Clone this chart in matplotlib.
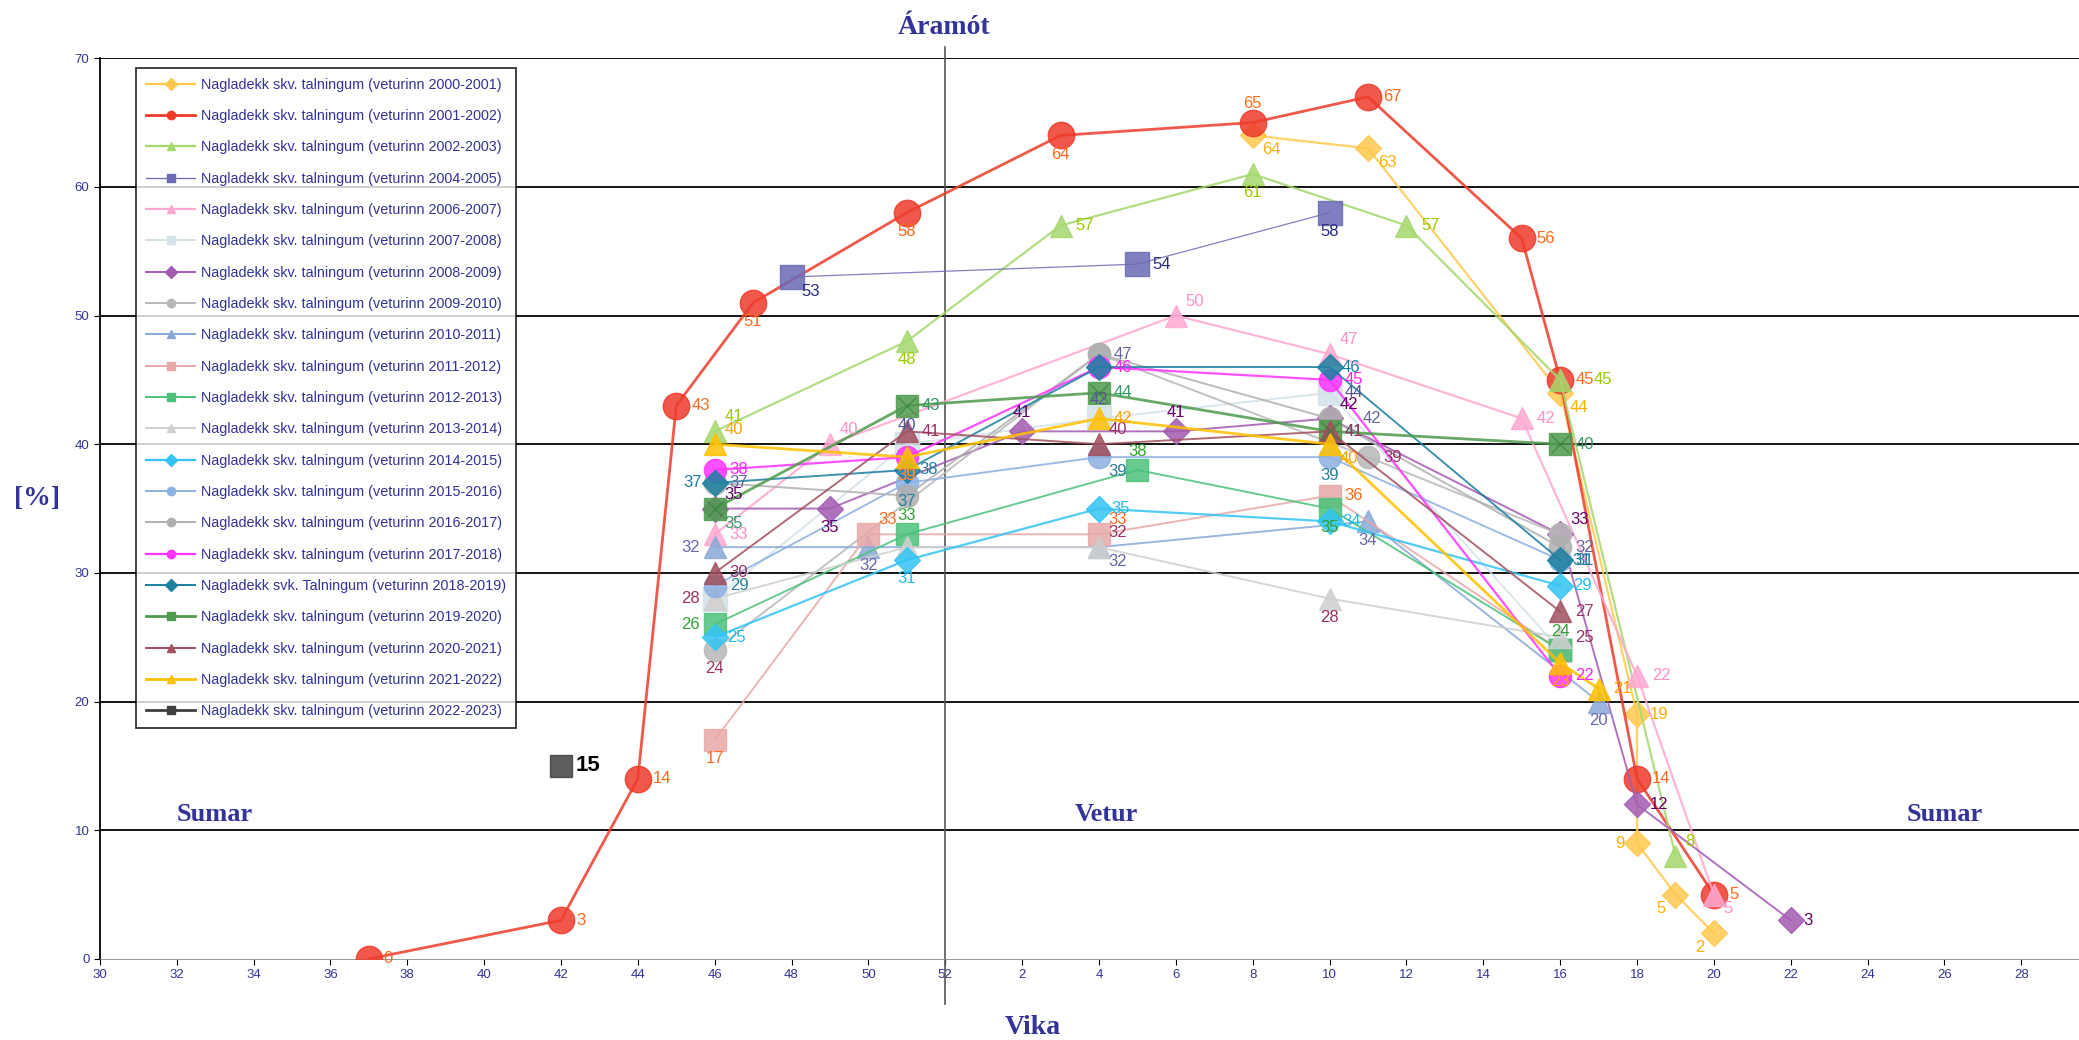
import matplotlib.pyplot as plt
from matplotlib.lines import Line2D

plt.rcParams['font.family'] = ['Liberation Sans', 'DejaVu Sans']

# x ticks: weeks from 30 through 52, then 2 to 28 of the next year
tick_weeks = [30, 32, 34, 36, 38, 40, 42, 44, 46, 48, 50, 52,
              2, 4, 6, 8, 10, 12, 14, 16, 18, 20, 22, 24, 26, 28]
y_ticks = [0, 10, 20, 30, 40, 50, 60, 70]

seasons = ['2000-2001', '2001-2002', '2002-2003', '2004-2005', '2006-2007',
           '2007-2008', '2008-2009', '2009-2010', '2010-2011', '2011-2012',
           '2012-2013', '2013-2014', '2014-2015', '2015-2016', '2016-2017',
           '2017-2018', '2018-2019', '2019-2020', '2020-2021', '2021-2022',
           '2022-2023']

wk_0001 = [8, 11, 16, 18, 18, 19, 20]
pc_0001 = [64, 63, 44, 19, 9, 5, 2]
wk_0102 = [37, 42, 44, 45, 47, 51, 3, 8, 11, 15, 16, 18, 20]
pc_0102 = [0, 3, 14, 43, 51, 58, 64, 65, 67, 56, 45, 14, 5]
wk_0203 = [46, 51, 3, 8, 12, 16, 19]
pc_0203 = [41, 48, 57, 61, 57, 45, 8]
wk_0405 = [48, 5, 10]
pc_0405 = [53, 54, 58]
wk_0607 = [46, 49, 6, 10, 15, 18, 20]
pc_0607 = [33, 40, 50, 47, 42, 22, 5]
wk_0708 = [46, 51, 4, 10, 16]
pc_0708 = [28, 40, 42, 44, 24]
wk_0809 = [46, 49, 2, 6, 10, 16, 18, 22]
pc_0809 = [35, 35, 41, 41, 42, 33, 12, 3]
wk_0910 = [46, 4, 11, 16]
pc_0910 = [24, 47, 39, 33]
wk_1011 = [46, 50, 4, 11, 17]
pc_1011 = [32, 32, 32, 34, 20]
wk_1112 = [46, 50, 4, 10, 16]
pc_1112 = [17, 33, 33, 36, 24]
wk_1213 = [46, 51, 5, 10, 16]
pc_1213 = [26, 33, 38, 35, 24]
wk_1314 = [46, 51, 4, 10, 16]
pc_1314 = [28, 32, 32, 28, 25]
wk_1415 = [46, 51, 4, 10, 16]
pc_1415 = [25, 31, 35, 34, 29]
wk_1516 = [46, 51, 4, 10, 16]
pc_1516 = [29, 37, 39, 39, 31]
wk_1617 = [46, 51, 4, 10, 16]
pc_1617 = [37, 36, 47, 42, 32]
wk_1718 = [46, 51, 4, 10, 16]
pc_1718 = [38, 39, 46, 45, 22]
wk_1819 = [46, 51, 4, 10, 16]
pc_1819 = [37, 38, 46, 46, 31]
wk_1920 = [46, 51, 4, 10, 16]
pc_1920 = [35, 43, 44, 41, 40]
wk_2021 = [46, 51, 4, 10, 16]
pc_2021 = [30, 41, 40, 41, 27]
wk_2122 = [46, 51, 4, 10, 16, 17]
pc_2122 = [40, 39, 42, 40, 23, 21]
wk_2223 = [42]
pc_2223 = [15]

data = [(wk_0001, pc_0001), (wk_0102, pc_0102), (wk_0203, pc_0203),
        (wk_0405, pc_0405), (wk_0607, pc_0607), (wk_0708, pc_0708),
        (wk_0809, pc_0809), (wk_0910, pc_0910), (wk_1011, pc_1011),
        (wk_1112, pc_1112), (wk_1213, pc_1213), (wk_1314, pc_1314),
        (wk_1415, pc_1415), (wk_1516, pc_1516), (wk_1617, pc_1617),
        (wk_1718, pc_1718), (wk_1819, pc_1819), (wk_1920, pc_1920),
        (wk_2021, pc_2021), (wk_2122, pc_2122), (wk_2223, pc_2223)]

# style: line colour, marker, marker size, line width, label colour
styles = [
    ('#FFC94D', 'D', 13, 1.6, '#FFB000'),
    ('#EE3B2B', 'o', 19, 2.0, '#FF6A1A'),
    ('#A6D86E', '^', 16, 1.6, '#99CC00'),
    ('#6A6AB5', 's', 17, 0.9, '#2B2B80'),
    ('#FFA8D0', '^', 16, 1.6, '#FF8FC8'),
    ('#D3E2E8', 's', 17, 1.4, '#555599'),
    ('#A25BB0', 'D', 13, 1.4, '#660066'),
    ('#B8B8B8', 'o', 16, 1.4, '#993366'),
    ('#8AA8D6', '^', 16, 1.4, '#6666AA'),
    ('#E8A8A8', 's', 16, 1.4, '#FF6A1A'),
    ('#4CC17A', 's', 16, 1.4, '#33A033'),
    ('#CFCFCF', '^', 16, 1.4, '#993366'),
    ('#33C4F4', 'D', 13, 1.6, '#22BBEE'),
    ('#8DB0E2', 'o', 16, 1.4, '#2A7F99'),
    ('#AFAFAF', 'o', 16, 1.4, '#666699'),
    ('#FF33FF', 'o', 16, 1.6, '#FF22FF'),
    ('#1C7FA0', 'D', 13, 1.4, '#1C7FA0'),
    ('#4E9A4E', 's', 16, 2.0, '#339966'),
    ('#A0505E', '^', 16, 1.4, '#993366'),
    ('#FFC000', '^', 16, 2.0, '#FFA000'),
    ('#404040', 's', 16, 2.0, '#000000'),
]

# label placement per point
lab_pos = [
    ['rb', 'rb', 'rb', 'r', 'l', 'lb', 'lb'],
    ['r', 'r', 'r', 'r', 'b', 'b', 'b', 'a', 'r', 'r', 'r', 'r', 'r'],
    ['ra', 'b', 'r', 'b', 'r', 'rr', 'ra'],
    ['rb', 'r', 'b'],
    ['r', 'ra', 'ra', 'ra', 'r', 'r', 'rb'],
    ['', 'a', 'a', 'r', ''],
    ['ra', 'b', 'a', 'a', 'ra', 'ra', 'r', 'r'],
    ['b', '', 'r', ''],
    ['l', 'b', 'rb', 'b', 'b'],
    ['b', 'ra', 'ra', 'r', ''],
    ['l', 'a', 'a', 'b', 'a'],
    ['l', '', 'ra', 'b', 'r'],
    ['r', 'b', 'r', 'r', 'r'],
    ['r', 'b', 'rb', 'b', 'r'],
    ['r', '', 'r', 'rr', 'r'],
    ['r', 'b', 'r', 'r', 'r'],
    ['l', 'r', '', 'r', 'r'],
    ['rb', 'r', 'r', 'r', 'r'],
    ['r', 'r', 'ra', 'r', 'r'],
    ['ra', 'b', 'r', 'rb', 'b', 'r'],
    ['r'],
]

offsets = {'r': (9, 0, 'left', 'center'), 'l': (-9, 0, 'right', 'center'),
           'rr': (24, 0, 'left', 'center'),
           'a': (0, 8, 'center', 'bottom'), 'b': (0, -8, 'center', 'top'),
           'ra': (7, 5, 'left', 'bottom'), 'rb': (7, -5, 'left', 'top'),
           'la': (-7, 5, 'right', 'bottom'), 'lb': (-7, -5, 'right', 'top')}


def wk(w):
    return w - 30 if w >= 30 else w + 22


navy = '#333399'
serif = 'Liberation Serif'

fig = plt.figure(figsize=(20.79, 10.40), dpi=100)
ax = fig.add_axes([0.048, 0.078, 0.952, 0.866])

for (weeks, vals), st, pos in zip(data, styles, lab_pos):
    col, mk, ms, lw, lcol = st
    xs = [wk(w) for w in weeks]
    ax.plot(xs, vals, color=col, lw=lw, marker=mk, ms=ms,
            markerfacecolor=col, markeredgecolor=col, alpha=0.85, zorder=3)
    for x, v, p in zip(xs, vals, pos):
        if not p:
            continue
        dx, dy, ha, va = offsets[p]
        if mk in 'os^' and p in ('r', 'l'):
            dx = dx * 1.2
        bold = col == '#404040'
        ax.annotate(str(v), (x, v), xytext=(dx, dy), textcoords='offset points',
                    ha=ha, va=va, color=lcol, zorder=5,
                    fontsize=16 if bold else 12,
                    fontweight='bold' if bold else 'normal')

# crossed squares of 2019-2020
ax.plot([wk(w) for w in wk_1920], pc_1920, ls='none', marker='x', ms=13,
        mew=1, color='#2E7A2E', alpha=0.6, zorder=4)

ax.set_xlim(0, 51.5)
ax.set_ylim(0, 70)
ax.set_xticks(range(0, 51, 2))
ax.set_xticklabels(tick_weeks)
ax.set_yticks(y_ticks)
ax.tick_params(axis='both', labelsize=9.5, labelcolor=navy, length=4,
               direction='out', color='black')
for yv in y_ticks[1:]:
    ax.axhline(yv, color='black', lw=1.3, zorder=1)
for s in ['top', 'right']:
    ax.spines[s].set_visible(False)
ax.spines['left'].set_linewidth(1.3)
ax.spines['bottom'].set_linewidth(0.6)
ax.spines['bottom'].set_color('#888888')

ax.axvline(wk(52), ymin=-0.05, ymax=1.013, color='#555555', lw=1.2,
           clip_on=False, zorder=2)

fig.text(0.454, 0.974, 'Áramót', ha='center', va='center', fontsize=20,
         fontweight='bold', family=serif, color=navy)
fig.text(0.497, 0.012, 'Vika', ha='center', va='center',
         fontsize=20, fontweight='bold', family=serif, color=navy)
fig.text(0.018, 0.521, '[%]', ha='center', va='center', fontsize=20,
         fontweight='bold', family=serif, color=navy)
for xw, txt in [(33, 'Sumar'), (4.2, 'Vetur'), (26, 'Sumar')]:
    ax.text(wk(xw), 11.2, txt, ha='center', va='center', fontsize=19,
            fontweight='bold', family=serif, color=navy)

handles = []
for season, st in zip(seasons, styles):
    col, mk, ms, lw, lcol = st
    word = 'svk. Talningum' if season == '2018-2019' else 'skv. talningum'
    handles.append(Line2D([], [], color=col, lw=lw, marker=mk, ms=6,
                          label=f'Nagladekk {word} (veturinn {season})'))
leg = fig.legend(handles=handles, loc='upper left',
                 bbox_to_anchor=(0.0655, 0.935), fontsize=10.4, frameon=True,
                 fancybox=False, edgecolor='black', labelspacing=1.2,
                 handlelength=3.4, handletextpad=0.4, borderpad=0.7,
                 borderaxespad=0, labelcolor=navy)
leg.get_frame().set_linewidth(1.3)

plt.savefig('out.png')
